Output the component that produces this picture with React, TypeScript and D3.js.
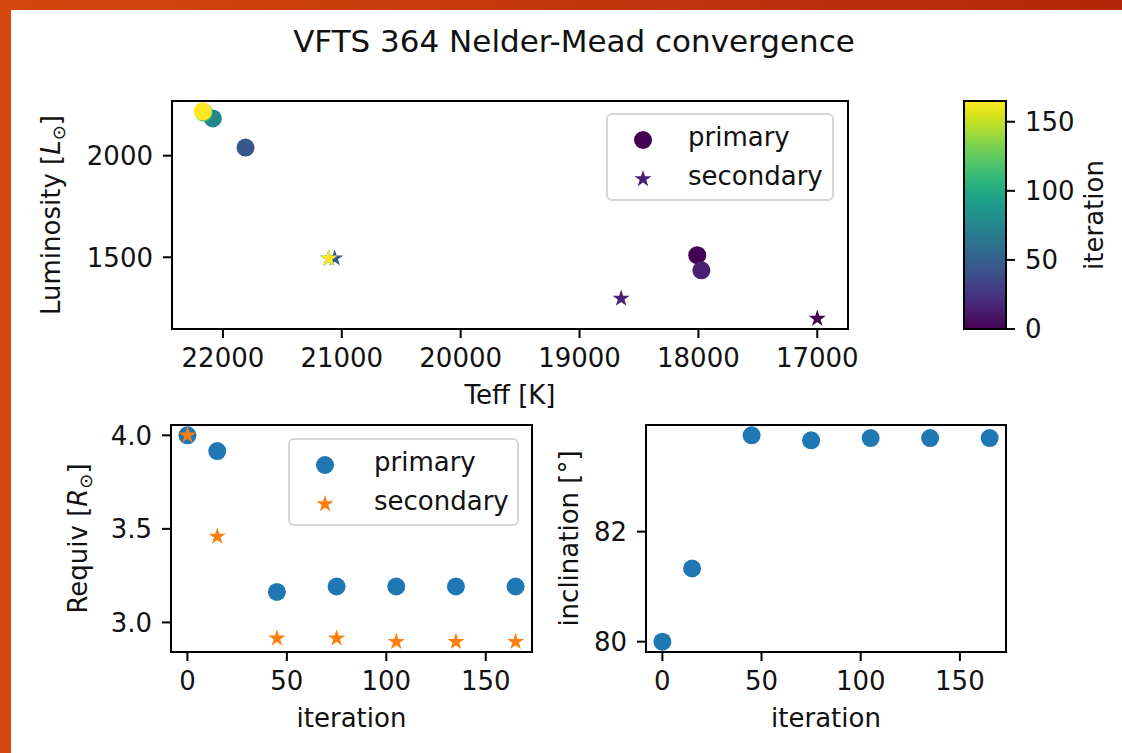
import * as d3 from "d3"

// iteration numbers of the Nelder-Mead steps that were plotted
const iterations = [0, 15, 45, 75, 105, 135, 165]

// top panel: HR-diagram positions
const teffPrimary = [18010, 17975, 21810, 22085, 22160, 22165, 22170]
const lumPrimary = [1510, 1436, 2040, 2183, 2212, 2215, 2218]
const teffSecondary = [17000, 18650, 21060, 21110, 21110, 21110, 21110]
const lumSecondary = [1198, 1297, 1495, 1494, 1494, 1494, 1494]

// bottom panels
const requivPrimary = [4.0, 3.916, 3.163, 3.192, 3.192, 3.192, 3.192]
const requivSecondary = [4.0, 3.459, 2.915, 2.915, 2.897, 2.897, 2.897]
const inclination = [80.0, 81.33, 83.75, 83.66, 83.7, 83.7, 83.7]

// tick labels
const teffTicks = [22000, 21000, 20000, 19000, 18000, 17000]
const lumTicks = [1500, 2000]
const iterTicks = [0, 50, 100, 150]
const requivTicks = [3.0, 3.5, 4.0]
const inclTicks = [80, 82]
const cbarTicks = [0, 50, 100, 150]

const FONT = "DejaVu Sans"
const FS = 26
const TICK = 9
const LW = 2
const BLUE = "#1f77b4"
const ORANGE = "#ff7f0e"
const R = 9
const STAR = d3.symbol(d3.symbolStar, 92)()

// matplotlib-like 5% margins
function padded(values: number[]): [number, number] {
  const [lo, hi] = d3.extent(values) as [number, number]
  const m = (hi - lo) * 0.05
  return [lo - m, hi + m]
}

type Box = { left: number; right: number; top: number; bottom: number }

function Frame({ box, x, y, xTicks, yTicks, xFmt, yFmt }: any) {
  const b: Box = box
  return (
    <g>
      <rect x={b.left} y={b.top} width={b.right - b.left} height={b.bottom - b.top} fill="none" stroke="#000" strokeWidth={LW} />
      {xTicks.map((t: number) => (
        <g key={"x" + t}>
          <line x1={x(t)} x2={x(t)} y1={b.bottom} y2={b.bottom + TICK} stroke="#000" strokeWidth={LW} />
          <text x={x(t)} y={b.bottom + 38} textAnchor="middle" fontSize={FS} fill="#111">
            {xFmt(t)}
          </text>
        </g>
      ))}
      {yTicks.map((t: number) => (
        <g key={"y" + t}>
          <line x1={b.left - TICK} x2={b.left} y1={y(t)} y2={y(t)} stroke="#000" strokeWidth={LW} />
          <text x={b.left - 19} y={y(t)} dy="0.36em" textAnchor="end" fontSize={FS} fill="#111">
            {yFmt(t)}
          </text>
        </g>
      ))}
    </g>
  )
}

function Legend({ x, y, w, h, c1, c2, tx }: any) {
  return (
    <g>
      <rect x={x} y={y} width={w} height={h} rx={5} fill="#fff" fillOpacity={0.8} stroke="#d6d6d6" strokeWidth={2} />
      <circle cx={x + 36} cy={y + 26} r={R} fill={c1} />
      <path d={STAR} transform={`translate(${x + 36},${y + 65})`} fill={c2} />
      <text x={x + tx} y={y + 32} fontSize={FS} fill="#111">primary</text>
      <text x={x + tx} y={y + 71} fontSize={FS} fill="#111">secondary</text>
    </g>
  )
}

export default function App() {
  const W = 1122
  const H = 753

  const top: Box = { left: 172, right: 848, top: 101, bottom: 329 }
  const bl: Box = { left: 171, right: 532, top: 425, bottom: 652 }
  const br: Box = { left: 646, right: 1006, top: 425, bottom: 652 }
  const cb: Box = { left: 964, right: 1006, top: 101, bottom: 329 }

  const teffDom = padded([...teffPrimary, ...teffSecondary])
  const xTeff = d3.scaleLinear().domain([teffDom[1], teffDom[0]]).range([top.left, top.right])
  const yLum = d3.scaleLinear().domain(padded([...lumPrimary, ...lumSecondary])).range([top.bottom, top.top])

  const maxIter = d3.max(iterations) as number
  const color = d3.scaleSequential(d3.interpolateViridis).domain([0, maxIter])
  const yCb = d3.scaleLinear().domain([0, maxIter]).range([cb.bottom, cb.top])

  const xIterL = d3.scaleLinear().domain(padded(iterations)).range([bl.left, bl.right])
  const yReq = d3.scaleLinear().domain(padded([...requivPrimary, ...requivSecondary])).range([bl.bottom, bl.top])
  const xIterR = d3.scaleLinear().domain(padded(iterations)).range([br.left, br.right])
  const yInc = d3.scaleLinear().domain(padded(inclination)).range([br.bottom, br.top])

  const stops = d3.range(0, 1.0001, 0.05)

  return (
    <div style={{ position: "absolute", left: 0, top: 0 }}>
      <svg width={W} height={H} fontFamily={FONT} style={{ display: "block" }}>
        <defs>
          <linearGradient id="bg" x1="0" y1="0" x2="1" y2="0">
            <stop offset="0" stopColor="#d4480f" />
            <stop offset="1" stopColor="#b5260a" />
          </linearGradient>
          <linearGradient id="vir" x1="0" y1="1" x2="0" y2="0">
            {stops.map((s) => (
              <stop key={s} offset={s} stopColor={d3.interpolateViridis(s)} />
            ))}
          </linearGradient>
        </defs>
        <rect x={0} y={0} width={W} height={H} fill="url(#bg)" />
        <rect x={11} y={10} width={W - 11} height={H - 10} fill="#fff" />

        <text x={574} y={52} textAnchor="middle" fontSize={31} fill="#111">
          VFTS 364 Nelder-Mead convergence
        </text>

        {/* top panel */}
        <g>
          {iterations.map((it, i) => (
            <circle key={"p" + i} cx={xTeff(teffPrimary[i])} cy={yLum(lumPrimary[i])} r={R} fill={color(it)} />
          ))}
          {iterations.map((it, i) => (
            <path key={"s" + i} d={STAR} transform={`translate(${xTeff(teffSecondary[i])},${yLum(lumSecondary[i])})`} fill={color(it)} />
          ))}
          <Frame box={top} x={xTeff} y={yLum} xTicks={teffTicks} yTicks={lumTicks} xFmt={(t: number) => String(t)} yFmt={(t: number) => String(t)} />
          <Legend x={607} y={114} w={226} h={86} c1={color(0)} c2={color(15)} tx={81} />
          <text x={(top.left + top.right) / 2} y={404} textAnchor="middle" fontSize={FS} fill="#111">
            Teff [K]
          </text>
          <text transform={`translate(60,${(top.top + top.bottom) / 2}) rotate(-90)`} textAnchor="middle" fontSize={FS} fill="#111">
            Luminosity [<tspan fontStyle="italic">L</tspan>
            <tspan fontSize={18} dy={5}>⊙</tspan>
            <tspan dy={-5}>]</tspan>
          </text>
        </g>

        {/* colorbar */}
        <g>
          <rect x={cb.left} y={cb.top} width={cb.right - cb.left} height={cb.bottom - cb.top} fill="url(#vir)" stroke="#000" strokeWidth={LW} />
          {cbarTicks.map((t) => (
            <g key={t}>
              <line x1={cb.right} x2={cb.right + TICK} y1={yCb(t)} y2={yCb(t)} stroke="#000" strokeWidth={LW} />
              <text x={cb.right + 19} y={yCb(t)} dy="0.36em" fontSize={FS} fill="#111">
                {t}
              </text>
            </g>
          ))}
          <text transform={`translate(1103,${(cb.top + cb.bottom) / 2}) rotate(-90)`} textAnchor="middle" fontSize={FS} fill="#111">
            iteration
          </text>
        </g>

        {/* bottom left */}
        <g>
          {iterations.map((it, i) => (
            <circle key={"p" + i} cx={xIterL(it)} cy={yReq(requivPrimary[i])} r={R} fill={BLUE} />
          ))}
          {iterations.map((it, i) => (
            <path key={"s" + i} d={STAR} transform={`translate(${xIterL(it)},${yReq(requivSecondary[i])})`} fill={ORANGE} />
          ))}
          <Frame box={bl} x={xIterL} y={yReq} xTicks={iterTicks} yTicks={requivTicks} xFmt={(t: number) => String(t)} yFmt={(t: number) => t.toFixed(1)} />
          <Legend x={289} y={439} w={229} h={86} c1={BLUE} c2={ORANGE} tx={85} />
          <text x={(bl.left + bl.right) / 2} y={727} textAnchor="middle" fontSize={FS} fill="#111">
            iteration
          </text>
          <text transform={`translate(87,${(bl.top + bl.bottom) / 2}) rotate(-90)`} textAnchor="middle" fontSize={FS} fill="#111">
            Requiv [<tspan fontStyle="italic">R</tspan>
            <tspan fontSize={18} dy={5}>⊙</tspan>
            <tspan dy={-5}>]</tspan>
          </text>
        </g>

        {/* bottom right */}
        <g>
          {iterations.map((it, i) => (
            <circle key={"p" + i} cx={xIterR(it)} cy={yInc(inclination[i])} r={R} fill={BLUE} />
          ))}
          <Frame box={br} x={xIterR} y={yInc} xTicks={iterTicks} yTicks={inclTicks} xFmt={(t: number) => String(t)} yFmt={(t: number) => String(t)} />
          <text x={(br.left + br.right) / 2} y={727} textAnchor="middle" fontSize={FS} fill="#111">
            iteration
          </text>
          <text transform={`translate(578,${(br.top + br.bottom) / 2}) rotate(-90)`} textAnchor="middle" fontSize={FS} fill="#111">
            inclination [°]
          </text>
        </g>
      </svg>
    </div>
  )
}
